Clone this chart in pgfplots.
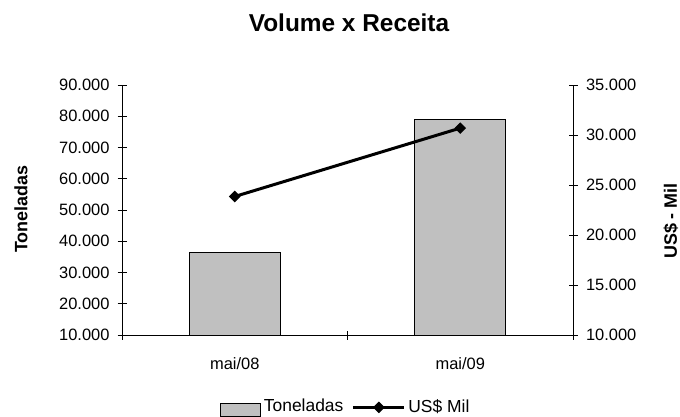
\documentclass[border=0pt]{standalone}
\usepackage{pgfplots}
\pgfplotsset{compat=1.18}
\usepackage{fontspec}
\setmainfont{Liberation Sans}
\definecolor{bargray}{RGB}{192,192,192}
\pgfplotsset{mylineleg/.style={legend image code/.code={\draw[##1, mark repeat=2, mark phase=2] plot coordinates {(0bp,-1bp) (26bp,-1bp) (51bp,-1bp)};}}}
\begin{document}
\begin{tikzpicture}[x=1bp,y=1bp]
\path[use as bounding box] (0,0) rectangle (680,416);
\pgfplotsset{every axis/.append style={
  scale only axis, width=451bp, height=250bp, at={(122bp,81bp)}, anchor=south west,
  xmin=-0.5, xmax=1.5,
  tick align=center, major tick length=9bp,
  axis line style={line width=1bp, black},
  every tick/.style={line width=1bp, black},
  scaled y ticks=false,
  ticklabel style={font=\fontsize{16.5}{19}\selectfont},
  /pgf/number format/assume math mode=true,
  /pgf/number format/fixed,
  /pgf/number format/1000 sep={.},
}}
\begin{axis}[
  axis x line*=bottom, axis y line*=left,
  ymin=10000, ymax=90000, ytick={10000,20000,...,90000},
  yticklabel style={xshift=-4.5bp},
  xtick={-0.5,0.5,1.5}, xticklabels={},
  extra x ticks={0,1}, extra x tick labels={mai/08,mai/09},
  extra x tick style={major tick length=0pt, xticklabel style={yshift=-19bp}},
]
\addplot[ybar, bar width=91bp, fill=bargray, draw=black, line width=1bp] coordinates {(0,36300) (1,78900)};
\end{axis}
\begin{axis}[
  axis x line=none, axis y line*=right,
  ymin=10000, ymax=35000, ytick={10000,15000,...,35000},
  yticklabel style={xshift=5bp},
  clip=false,
  legend style={draw=none, at={(0.497,-0.24)}, anchor=north, legend columns=2,
    font=\fontsize{17.5}{20}\selectfont,
    nodes={inner xsep=3bp},
    /tikz/every even column/.append style={column sep=5bp}},
]
\addlegendimage{legend image code/.code={\draw[fill=bargray, draw=black, line width=1bp] (0bp,-10bp) rectangle (40bp,3bp);}}
\addlegendentry{Toneladas}
\addplot[black, line width=3bp, mark=square*, mark size=3.6bp, mark options={rotate=45, solid, line width=1bp}, mylineleg]
  coordinates {(0,23850) (1,30690)};
\addlegendentry{US\$ Mil}
\end{axis}
\node[font=\fontsize{24.5}{28}\selectfont\bfseries] at (349,393) {Volume x Receita};
\node[font=\fontsize{18}{21}\selectfont\bfseries, rotate=90] at (21,207) {Toneladas};
\node[font=\fontsize{18}{21}\selectfont\bfseries, rotate=90] at (671,195) {US\$ - Mil};
\end{tikzpicture}
\end{document}
